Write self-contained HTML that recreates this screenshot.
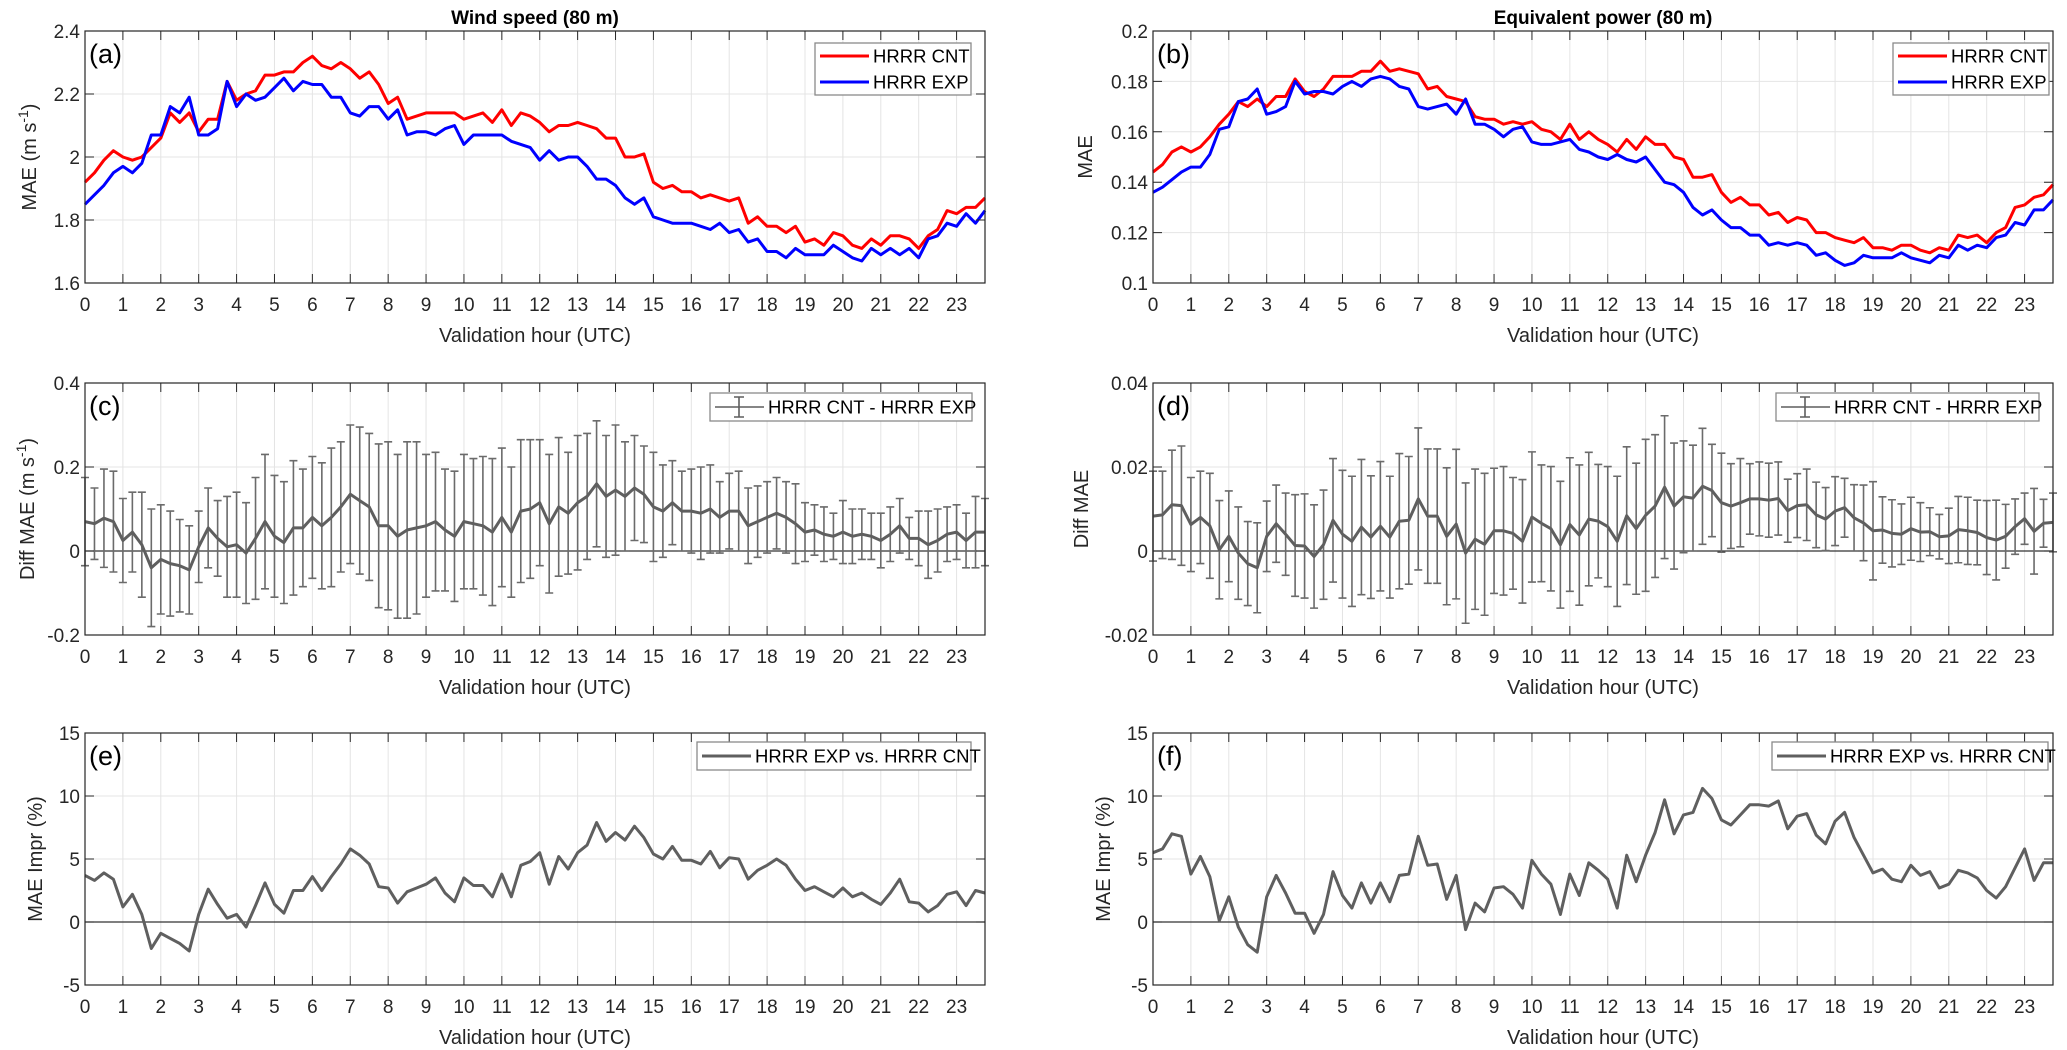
<!DOCTYPE html>
<html><head><meta charset="utf-8">
<style>
html,body{margin:0;padding:0;background:#fff;}
svg{display:block;font-family:"Liberation Sans",Arial,sans-serif;}
</style></head>
<body>
<svg id="fig" width="2067" height="1050" viewBox="0 0 2067 1050" xmlns="http://www.w3.org/2000/svg">
<rect width="2067" height="1050" fill="#fff"/>
<text x="535" y="24" text-anchor="middle" font-size="19" font-weight="bold">Wind speed (80 m)</text>
<text x="1603" y="24" text-anchor="middle" font-size="19" font-weight="bold">Equivalent power (80 m)</text>
</svg>
<script>
const hours = Array.from({length:96},(_,i)=>i*0.25);
const xTickLabels = ["0","1","2","3","4","5","6","7","8","9","10","11","12","13","14","15","16","17","18","19","20","21","22","23"];

const wsCnt = [1.92,1.95,1.99,2.02, 2.00,1.99,2.00,2.03, 2.06,2.14,2.11,2.14, 2.08,2.12,2.12,2.24, 2.18,2.20,2.21,2.26, 2.26,2.27,2.27,2.30, 2.32,2.29,2.28,2.30, 2.28,2.25,2.27,2.23, 2.17,2.19,2.12,2.13, 2.14,2.14,2.14,2.14, 2.12,2.13,2.14,2.11, 2.15,2.10,2.14,2.13, 2.11,2.08,2.10,2.10, 2.11,2.10,2.09,2.06, 2.06,2.00,2.00,2.01, 1.92,1.90,1.91,1.89, 1.89,1.87,1.88,1.87, 1.86,1.87,1.79,1.81, 1.78,1.78,1.76,1.78, 1.73,1.74,1.72,1.76, 1.75,1.72,1.71,1.74, 1.72,1.75,1.75,1.74, 1.71,1.75,1.77,1.83, 1.82,1.84,1.84,1.87];
const wsExp = [1.85,1.88,1.91,1.95, 1.97,1.95,1.98,2.07, 2.07,2.16,2.14,2.19, 2.07,2.07,2.09,2.24, 2.16,2.20,2.18,2.19, 2.22,2.25,2.21,2.24, 2.23,2.23,2.19,2.19, 2.14,2.13,2.16,2.16, 2.12,2.15,2.07,2.08, 2.08,2.07,2.09,2.10, 2.04,2.07,2.07,2.07, 2.07,2.05,2.04,2.03, 1.99,2.02,1.99,2.00, 2.00,1.97,1.93,1.93, 1.91,1.87,1.85,1.87, 1.81,1.80,1.79,1.79, 1.79,1.78,1.77,1.79, 1.76,1.77,1.73,1.74, 1.70,1.70,1.68,1.71, 1.69,1.69,1.69,1.72, 1.70,1.68,1.67,1.71, 1.69,1.71,1.69,1.71, 1.68,1.74,1.75,1.79, 1.78,1.82,1.79,1.83];
const wsDiff = [.07,.065,.078,.07, .025,.045,.015,-.04, -.02,-.03,-.035,-.045, .01,.055,.03,.01, .015,-.005,.03,.07, .035,.02,.055,.055, .08,.06,.08,.105, .135,.12,.105,.06, .06,.035,.05,.055, .06,.07,.05,.035, .07,.065,.06,.045, .08,.045,.095,.10, .115,.065,.105,.09, .115,.13,.16,.13, .145,.13,.15,.135, .105,.095,.115,.095, .095,.09,.10,.08, .095,.095,.06,.07, .08,.09,.08,.065, .045,.05,.04,.035, .045,.035,.04,.035, .025,.04,.06,.03, .03,.015,.025,.04, .045,.025,.045,.045];
const wsErr = [.105,.085,.117,.12, .10,.095,.125,.14, .13,.125,.11,.105, .085,.095,.09,.12, .125,.12,.145,.16, .145,.145,.16,.14, .145,.15,.165,.155, .165,.175,.175,.195, .20,.195,.21,.205, .17,.165,.145,.155, .16,.155,.165,.175, .165,.155,.17,.165, .15,.165,.165,.145, .16,.15,.15,.145, .155,.13,.125,.115, .13,.11,.10,.095, .10,.11,.105,.085, .09,.095,.09,.085, .085,.085,.085,.095, .07,.06,.065,.055, .075,.065,.06,.055, .065,.065,.065,.05, .065,.08,.075,.065, .065,.065,.085,.08];
const wsImpr = [3.7,3.3,3.9,3.4, 1.2,2.2,0.6,-2.1, -0.9,-1.3,-1.7,-2.3, 0.6,2.6,1.4,0.3, 0.6,-0.4,1.3,3.1, 1.4,0.7,2.5,2.5, 3.6,2.5,3.6,4.6, 5.8,5.3,4.6,2.8, 2.7,1.5,2.4,2.7, 3.0,3.5,2.3,1.6, 3.5,2.9,2.9,2.0, 3.8,2.0,4.5,4.8, 5.5,3.0,5.2,4.2, 5.5,6.1,7.9,6.4, 7.1,6.5,7.6,6.7, 5.4,5.0,6.0,4.9, 4.9,4.6,5.6,4.3, 5.1,5.0,3.4,4.1, 4.5,5.0,4.5,3.4, 2.5,2.8,2.4,2.0, 2.7,2.0,2.3,1.8, 1.4,2.3,3.4,1.6, 1.5,0.8,1.3,2.2, 2.4,1.3,2.5,2.3];

const epCnt = [.144,.147,.152,.154, .152,.154,.158,.163, .167,.172,.170,.173, .170,.174,.174,.181, .176,.174,.177,.182, .182,.182,.184,.184, .188,.184,.185,.184, .183,.177,.178,.174, .173,.172,.166,.165, .165,.163,.164,.163, .164,.161,.160,.157, .163,.157,.160,.157, .155,.152,.157,.153, .158,.155,.155,.150, .149,.142,.142,.143, .136,.132,.134,.131, .131,.127,.128,.124, .126,.125,.120,.120, .118,.117,.116,.118, .114,.114,.113,.115, .115,.113,.112,.114, .113,.119,.118,.119, .116,.120,.122,.130, .131,.134,.135,.139];
const epExp = [.136,.138,.141,.144, .146,.146,.151,.161, .162,.172,.173,.177, .167,.168,.170,.180, .175,.176,.176,.175, .178,.180,.178,.181, .182,.181,.178,.177, .170,.169,.170,.171, .167,.173,.163,.163, .161,.158,.161,.162, .156,.155,.155,.156, .157,.153,.152,.150, .149,.151,.149,.148, .150,.145,.140,.139, .136,.130,.127,.129, .125,.122,.122,.119, .119,.115,.116,.115, .116,.115,.111,.112, .109,.107,.108,.111, .110,.110,.110,.112, .110,.109,.108,.111, .110,.115,.113,.115, .114,.118,.119,.124, .123,.129,.129,.133];
const epDiff = [.0083,.0086,.011,.0108, .0063,.008,.006,.0003, .0035,-.0005,-.003,-.004, .0035,.0065,.004,.0013, .0012,-.0013,.0015,.0073, .004,.0023,.0057,.0033, .0059,.0033,.0071,.0073, .0124,.0083,.0083,.0035, .0064,-.0005,.0028,.0016, .0048,.0048,.0042,.0023, .0081,.0066,.0053,.0015, .0063,.0038,.0076,.0071, .0058,.0023,.0084,.0053, .0085,.0107,.0152,.0107, .0129,.0126,.0154,.0144, .0115,.0107,.0115,.0124, .0124,.0121,.0125,.0096, .0108,.011,.0086,.0076, .0095,.0103,.0079,.0067, .0048,.005,.0042,.004, .0053,.0045,.0046,.0034, .0036,.0051,.0048,.0044, .0032,.0026,.0035,.0058, .0077,.0047,.0066,.0068];
const epErr = [.0107,.0104,.013,.0142, .0112,.011,.0125,.0117, .0108,.011,.010,.0107, .0084,.0092,.0098,.0121, .0124,.0123,.013,.0147, .0152,.0155,.0161,.0146, .0154,.0145,.0161,.0152, .0169,.016,.016,.0163, .0178,.0167,.0167,.0169, .0149,.0153,.0133,.0147, .0155,.0139,.0148,.0151, .0159,.0167,.0159,.0135, .0143,.0155,.0164,.0156, .0181,.017,.017,.015, .0133,.0126,.0138,.011, .0118,.0101,.0105,.0084, .0088,.0088,.0087,.0075, .0076,.0085,.0078,.0075, .0082,.007,.0079,.009, .0117,.0079,.008,.0072, .0075,.007,.0057,.0053, .0066,.0079,.008,.0077, .0088,.0095,.0076,.0066, .0061,.0102,.0057,.007];
const epImpr = [5.5,5.8,7.0,6.8, 3.8,5.2,3.6,0.1, 2.0,-0.4,-1.8,-2.4, 2.0,3.7,2.3,0.7, 0.7,-0.9,0.6,4.0, 2.1,1.1,3.1,1.5, 3.1,1.6,3.7,3.8, 6.8,4.5,4.6,1.8, 3.7,-0.6,1.5,0.8, 2.7,2.8,2.2,1.1, 4.9,3.8,3.0,0.6, 3.8,2.1,4.7,4.1, 3.4,1.1,5.3,3.2, 5.3,7.1,9.7,7.0, 8.5,8.7,10.6,9.8, 8.1,7.7,8.5,9.3, 9.3,9.2,9.6,7.4, 8.4,8.6,6.9,6.2, 8.0,8.7,6.7,5.3, 3.9,4.2,3.4,3.2, 4.5,3.7,4.0,2.7, 3.0,4.1,3.9,3.5, 2.5,1.9,2.8,4.3, 5.8,3.3,4.7,4.7];

const yTicksA = [1.6,1.8,2.0,2.2,2.4];
const yTickLabelsA = ["1.6","1.8","2","2.2","2.4"];
const yTicksC = [-0.2,0,0.2,0.4];
const yTickLabelsC = ["-0.2","0","0.2","0.4"];
const yTicksE = [-5,0,5,10,15];
const yTickLabelsE = ["-5","0","5","10","15"];
const yTicksB = [0.1,0.12,0.14,0.16,0.18,0.2];
const yTickLabelsB = ["0.1","0.12","0.14","0.16","0.18","0.2"];
const yTicksD = [-0.02,0,0.02,0.04];
const yTickLabelsD = ["-0.02","0","0.02","0.04"];

const NS = "http://www.w3.org/2000/svg";
const svg = document.getElementById('fig');
function mk(tag, attrs, parent){
  const e = document.createElementNS(NS, tag);
  for (const k in attrs) e.setAttribute(k, attrs[k]);
  (parent||svg).appendChild(e);
  return e;
}
function txt(str, attrs, parent){ const e = mk('text', attrs, parent); e.textContent = str; return e; }

function panel(o){
  const g = mk('g', {});
  
  
  const L=o.x0, R=o.x0+900, T=o.y0, B=o.y0+252;
  const xs = h => L + h/23.75*(R-L);
  const ys = v => B - (v-o.ymin)/(o.ymax-o.ymin)*(B-T);
  // grid
  for (let i=0;i<xTickLabels.length;i++){
    const x = xs(i);
    const gl = mk('line',{x1:x,x2:x,y1:T,y2:B,stroke:'#e4e4e4','stroke-width':1},g);
    
    
  }
  o.yt.forEach(v=>{ const y=ys(v);
    const gl = mk('line',{x1:L,x2:R,y1:y,y2:y,stroke:'#e4e4e4','stroke-width':1},g);
    
    
  });
  if (o.zero){
    const z = mk('line',{x1:L,x2:R,y1:ys(0),y2:ys(0),stroke:'#333','stroke-width':1.3},g);
    
    
  }
  // errorbars
  if (o.err){
    hours.forEach((h,i)=>{
      const x=xs(h), y1=ys(o.series[0].v[i]+o.err[i]), y2=ys(o.series[0].v[i]-o.err[i]);
      const eb = mk('path',{d:`M${x},${y1}V${y2}M${x-4},${y1}H${x+4}M${x-4},${y2}H${x+4}`,stroke:'#6b6b6b','stroke-width':1.6,fill:'none'},g);
      
      
    });
  }
  o.series.forEach(s=>{
    const d = hours.map((h,i)=>(i?'L':'M')+xs(h).toFixed(1)+','+ys(s.v[i]).toFixed(1)).join('');
    const p = mk('path',{d,stroke:s.c,'stroke-width':3,fill:'none','stroke-linejoin':'round'},g);
    
    
  });
  // axes box
  const bx = mk('rect',{x:L,y:T,width:R-L,height:B-T,fill:'none',stroke:'#262626','stroke-width':1.2},g);
  
  
  // ticks
  for (let i=0;i<xTickLabels.length;i++){
    const x=xs(i);
    mk('path',{d:`M${x},${B}v-9M${x},${T}v9`,stroke:'#262626','stroke-width':1},g);
    const t = txt(xTickLabels[i],{x:x,y:B+28,'text-anchor':'middle','font-size':19,fill:'#262626'},g);
    
    
  }
  o.yt.forEach((v,i)=>{ const y=ys(v);
    mk('path',{d:`M${L},${y}h9M${R},${y}h-9`,stroke:'#262626','stroke-width':1},g);
    const t = txt(o.ytl[i],{x:L-5,y:y+7,'text-anchor':'end','font-size':19,fill:'#262626'},g);
    
    
  });
  const xl = txt('Validation hour (UTC)',{x:(L+R)/2,y:B+59,'text-anchor':'middle','font-size':20,fill:'#262626'},g);
  
  
  const yl = txt('',{transform:`translate(${o.ylx},${(T+B)/2}) rotate(-90)`,'text-anchor':'middle','font-size':20,fill:'#262626'},g);
  
  
  yl.appendChild(document.createTextNode(o.ylab));
  if (o.sup){ const ts = mk('tspan',{dy:-8,'font-size':14},yl); ts.textContent='-1'; const ts2=mk('tspan',{dy:8},yl); ts2.textContent=')'; }
  const pl = txt(o.label,{x:L+4,y:T+32,'font-size':27,fill:'#000'},g);
  
  
  // legend
  const lg = mk('g',{},g);
  
  
  const lw=o.leg.w, lh=o.leg.h, lx=R-o.leg.r-lw, ly=T+o.leg.t;
  mk('rect',{x:lx,y:ly,width:lw,height:lh,fill:'#fff',stroke:'#8a8a8a','stroke-width':1.3},lg);
  o.leg.items.forEach((it,k)=>{
    const yy = ly + (k+0.5)*lh/o.leg.items.length;
    const en = mk('g',{},lg);
    
    
    mk('line',{x1:lx+5,x2:lx+54,y1:yy,y2:yy,stroke:it.c,'stroke-width':it.eb?1.6:3},en);
    if (it.eb) mk('path',{d:`M${lx+29},${yy-10}v20M${lx+24},${yy-10}h10M${lx+24},${yy+10}h10`,stroke:it.c,'stroke-width':1.6,fill:'none'},en);
    txt(it.t,{x:lx+58,y:yy+6.5,'font-size':18.5,fill:'#000'},en);
  });
}

const LX=85, RX=1153;
panel({name:'panel-a-wind-mae',x0:LX,y0:31,ymin:1.6,ymax:2.4,yt:yTicksA,ytl:yTickLabelsA,ylab:'MAE (m s',sup:true,ylx:36,label:'(a)',
  series:[{v:wsCnt,c:'#ff0000',n:'line-hrrr-cnt'},{v:wsExp,c:'#0000ff',n:'line-hrrr-exp'}],
  leg:{w:156,h:52,r:14,t:12,items:[{t:'HRRR CNT',c:'#ff0000'},{t:'HRRR EXP',c:'#0000ff'}]}});
panel({name:'panel-c-wind-diff',x0:LX,y0:383,ymin:-0.2,ymax:0.4,zero:true,yt:yTicksC,ytl:yTickLabelsC,ylab:'Diff MAE (m s',sup:true,ylx:34,label:'(c)',
  series:[{v:wsDiff,c:'#5f5f5f',n:'line-diff-mae'}],err:wsErr,
  leg:{w:262,h:28,r:13,t:10,items:[{t:'HRRR CNT - HRRR EXP',c:'#5f5f5f',eb:true}]}});
panel({name:'panel-e-wind-impr',x0:LX,y0:733,ymin:-5,ymax:15,zero:true,yt:yTicksE,ytl:yTickLabelsE,ylab:'MAE Impr (%)',ylx:42,label:'(e)',
  series:[{v:wsImpr,c:'#5f5f5f',n:'line-mae-impr'}],
  leg:{w:274,h:28,r:14,t:9,items:[{t:'HRRR EXP vs. HRRR CNT',c:'#5f5f5f'}]}});
panel({name:'panel-b-power-mae',x0:RX,y0:31,ymin:0.1,ymax:0.2,yt:yTicksB,ytl:yTickLabelsB,ylab:'MAE',ylx:1092,label:'(b)',
  series:[{v:epCnt,c:'#ff0000',n:'line-hrrr-cnt'},{v:epExp,c:'#0000ff',n:'line-hrrr-exp'}],
  leg:{w:156,h:52,r:4,t:12,items:[{t:'HRRR CNT',c:'#ff0000'},{t:'HRRR EXP',c:'#0000ff'}]}});
panel({name:'panel-d-power-diff',x0:RX,y0:383,ymin:-0.02,ymax:0.04,zero:true,yt:yTicksD,ytl:yTickLabelsD,ylab:'Diff MAE',ylx:1088,label:'(d)',
  series:[{v:epDiff,c:'#5f5f5f',n:'line-diff-mae'}],err:epErr,
  leg:{w:263,h:28,r:14,t:10,items:[{t:'HRRR CNT - HRRR EXP',c:'#5f5f5f',eb:true}]}});
panel({name:'panel-f-power-impr',x0:RX,y0:733,ymin:-5,ymax:15,zero:true,yt:yTicksE,ytl:yTickLabelsE,ylab:'MAE Impr (%)',ylx:1110,label:'(f)',
  series:[{v:epImpr,c:'#5f5f5f',n:'line-mae-impr'}],
  leg:{w:276,h:28,r:5,t:9,items:[{t:'HRRR EXP vs. HRRR CNT',c:'#5f5f5f'}]}});
</script>
</body></html>
